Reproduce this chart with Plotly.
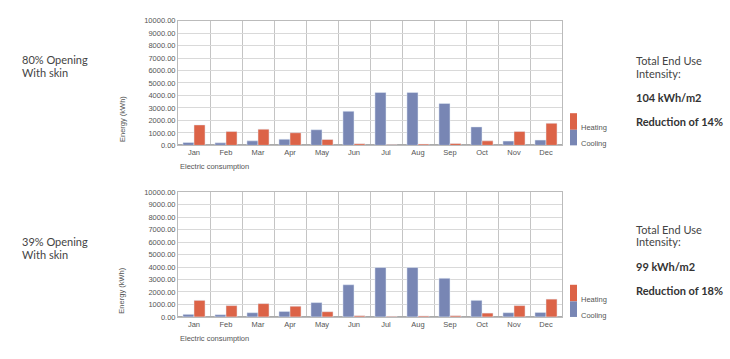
import plotly.graph_objects as go

months = ["Jan", "Feb", "Mar", "Apr", "May", "Jun", "Jul", "Aug", "Sep", "Oct", "Nov", "Dec"]

cooling_80 = [230, 200, 360, 490, 1250, 2730, 4240, 4240, 3360, 1480, 340, 420]
heating_80 = [1640, 1120, 1300, 1010, 470, 130, 50, 100, 150, 360, 1120, 1770]

cooling_39 = [210, 180, 340, 440, 1150, 2580, 3960, 3960, 3100, 1330, 340, 360]
heating_39 = [1330, 910, 1070, 860, 420, 100, 50, 80, 100, 310, 910, 1430]

left_labels = [["80% Opening", "With skin"], ["39% Opening", "With skin"]]
right_values = ["104 kWh/m2", "99 kWh/m2"]
right_reductions = ["Reduction of 14%", "Reduction of 18%"]

COOL = "#7886b4"
HEAT = "#dc6347"
W, H = 730, 359

def px(x):
    return x / W

def py(y):
    return 1 - y / H

fig = go.Figure()

panels = [
    dict(cool=cooling_80, heat=heating_80, top=17, bot=145, xa="x", ya="y"),
    dict(cool=cooling_39, heat=heating_39, top=193, bot=321, xa="x2", ya="y2"),
]

tickfont = dict(family="Liberation Sans, Arial", size=7.5, color="#555555")
anns = []
shapes = []
for i, p in enumerate(panels):
    fig.add_trace(go.Bar(x=months, y=p["cool"], marker_color=COOL, name="Cooling",
                         xaxis=p["xa"], yaxis=p["ya"], showlegend=False))
    fig.add_trace(go.Bar(x=months, y=p["heat"], marker_color=HEAT, name="Heating",
                         xaxis=p["xa"], yaxis=p["ya"], showlegend=False))
    xname = "xaxis" if i == 0 else "xaxis2"
    yname = "yaxis" if i == 0 else "yaxis2"
    fig.layout[xname] = dict(domain=[px(178), px(562)], anchor=p["ya"], type="category",
                             tickson="boundaries", showgrid=True, gridcolor="#c4c4c4",
                             gridwidth=1, ticks="", tickfont=tickfont, showline=True,
                             linecolor="#bbbbbb", mirror=True, fixedrange=True)
    fig.layout[yname] = dict(domain=[py(p["bot"]), py(p["top"])], anchor=p["xa"],
                             range=[0, 10000], dtick=1000, tickformat=".2f",
                             showgrid=True, gridcolor="#d9d9d9", tickfont=tickfont,
                             showline=True, linecolor="#bbbbbb", mirror=True,
                             zeroline=True, zerolinecolor="#aaaaaa", ticks="",
                             fixedrange=True)
    anns.append(dict(text="Electric consumption", x=px(178), y=py(p["bot"] + 22),
                     xref="paper", yref="paper", xanchor="left", yanchor="middle",
                     showarrow=False, font=tickfont))
    anns.append(dict(text="Energy (kWh)", x=px(122), y=py(p["bot"] - 27),
                     xref="paper", yref="paper", xanchor="center", yanchor="middle",
                     textangle=-90, showarrow=False, font=tickfont))
    off = p["bot"]
    shapes.append(dict(type="rect", xref="paper", yref="paper", x0=px(570), x1=px(577),
                       y0=py(off - 16), y1=py(off - 33), fillcolor=HEAT, line_width=0))
    shapes.append(dict(type="rect", xref="paper", yref="paper", x0=px(570), x1=px(577),
                       y0=py(off), y1=py(off - 16), fillcolor=COOL, line_width=0))
    lfont = dict(family="Liberation Sans, Arial", size=7.5, color="#555555")
    anns.append(dict(text="Heating", x=px(579), y=py(off - 18), xref="paper", yref="paper",
                     xanchor="left", yanchor="middle", showarrow=False, font=lfont))
    anns.append(dict(text="Cooling", x=px(579), y=py(off - 2), xref="paper", yref="paper",
                     xanchor="left", yanchor="middle", showarrow=False, font=lfont))

tfont = dict(family="Lato", size=11, color="#444444")
bfont = dict(family="Lato", size=11, color="#333333", weight="bold")
left_y = [(57, 70), (244, 257)]
right_y = [(58, 71, 96, 121), (231, 244, 269, 294)]
for i in range(2):
    for j, txt in enumerate(left_labels[i]):
        anns.append(dict(text=txt, x=px(20), y=py(left_y[i][j]), xref="paper", yref="paper",
                         xanchor="left", yanchor="middle", showarrow=False, font=tfont))
    ry = right_y[i]
    anns.append(dict(text="Total End Use", x=px(634), y=py(ry[0]), xref="paper", yref="paper",
                     xanchor="left", yanchor="middle", showarrow=False, font=tfont))
    anns.append(dict(text="Intensity:", x=px(634), y=py(ry[1]), xref="paper", yref="paper",
                     xanchor="left", yanchor="middle", showarrow=False, font=tfont))
    anns.append(dict(text=right_values[i], x=px(634), y=py(ry[2]), xref="paper", yref="paper",
                     xanchor="left", yanchor="middle", showarrow=False, font=bfont))
    anns.append(dict(text=right_reductions[i], x=px(634), y=py(ry[3]), xref="paper", yref="paper",
                     xanchor="left", yanchor="middle", showarrow=False, font=bfont))

fig.update_layout(width=W, height=H, margin=dict(l=0, r=0, t=0, b=0),
                  paper_bgcolor="white", plot_bgcolor="white",
                  barmode="group", bargap=0.31, bargroupgap=0,
                  annotations=anns, shapes=shapes)

fig.write_html("out.html", config={"displayModeBar": False},
               post_script="document.body.style.margin='0';document.body.style.overflow='hidden';")
